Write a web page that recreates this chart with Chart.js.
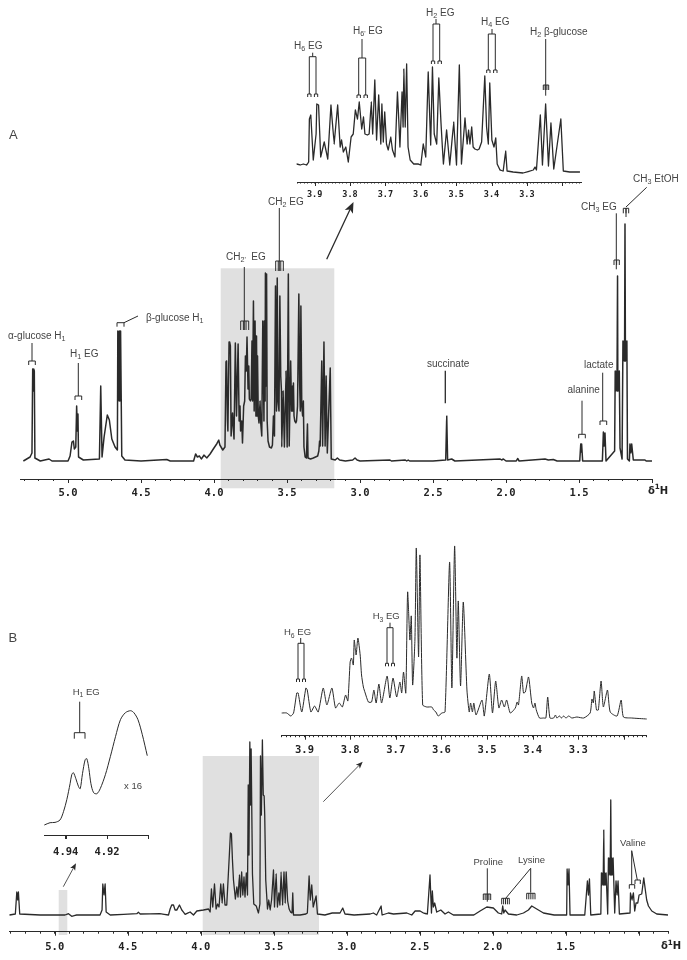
<!DOCTYPE html>
<html><head><meta charset="utf-8">
<script src="https://cdn.jsdelivr.net/npm/chart.js@4"></script>
<style>html,body{margin:0;padding:0;background:#fff;width:687px;height:960px;overflow:hidden}
canvas{position:absolute;left:0;top:0}</style></head><body>
<canvas id="c1" width="687" height="960"></canvas>
<canvas id="c2" width="687" height="960"></canvas>
<canvas id="c3" width="687" height="960"></canvas>
<canvas id="c4" width="687" height="960"></canvas>
<canvas id="c5" width="687" height="960"></canvas>
<script>
// ---------- Spectrum A (whole range): [chemical shift, intensity] ----------
const spectrumA=[[5.306,0],[5.26,4],[5.247,8],[5.242,92],[5.238,70],[5.235,92],[5.231,90],[5.227,3],[5.19,0],[5.13,2],[5.11,0],[5.0,0],[4.986,5],[4.973,19],[4.963,20],[4.957,12],[4.947,14],[4.941,55],[4.936,30],[4.932,47],[4.928,4],[4.895,1],
[4.785,2],[4.776,75],[4.767,4],[4.753,24],[4.731,46],[4.717,41],[4.70,22],[4.678,14],[4.662,11],[4.659,130],[4.655,60],[4.651,130],[4.648,60],[4.645,130],[4.642,60],[4.64,130],[4.632,5],[4.61,1],[4.5,0],[4.324,1.5],[4.3,0],[4.14,0],[4.126,7],[4.114,4],[4.10,5],[4.087,2],[4.068,6],[4.05,3],[4.027,7],[4.005,12],[3.982,17],[3.968,21],[3.96,16],[3.94,11],
[3.925,14],[3.918,99],[3.914,100],[3.908,40],[3.905,30],[3.897,119],[3.893,119],[3.888,115],[3.883,25],[3.873,48],[3.863,22],[3.854,118],[3.846,45],[3.835,117],[3.828,40],[3.822,55],[3.818,30],[3.81,40],[3.805,18],[3.797,55],[3.79,60],[3.785,105],[3.779,90],[3.774,124],[3.767,72],[3.762,95],[3.758,62],[3.751,60],[3.746,62],[3.74,120],[3.736,60],[3.73,160],[3.725,50],[3.719,140],[3.713,45],[3.709,125],[3.705,45],[3.702,105],[3.697,45],[3.692,38],[3.685,60],[3.68,38],[3.673,25],[3.666,140],[3.662,95],[3.658,40],[3.655,140],[3.65,60],[3.648,188],[3.644,75],[3.64,187],[3.636,40],[3.63,20],[3.62,14],[3.607,13],[3.6,16],[3.593,45],[3.586,25],[3.579,175],[3.572,50],[3.567,183],[3.562,60],[3.555,50],[3.549,165],[3.543,85],[3.538,70],[3.536,14],[3.527,70],[3.518,14],[3.507,90],[3.499,14],[3.491,187],[3.485,15],[3.475,100],[3.469,50],[3.465,75],[3.461,50],[3.456,78],[3.452,45],[3.447,40],[3.44,38],[3.435,40],[3.428,55],[3.419,167],[3.414,80],[3.409,50],[3.405,155],[3.399,55],[3.393,45],[3.388,60],[3.384,14],[3.376,4],[3.367,3],[3.36,37],[3.356,3],[3.339,2],[3.32,3],[3.29,5],[3.282,10],[3.277,20],[3.273,15],[3.262,100],[3.256,15],[3.247,119],[3.239,15],[3.232,85],[3.224,8],[3.204,93],[3.197,2],[3.17,1],[3.155,3],[3.14,1],[3.1,0],
[3.05,1],[3.034,3],[3.02,1],[3.0,0],[2.795,1],[2.785,0],[2.69,1],[2.68,0],[2.67,1],[2.66,0],[2.5,0],[2.413,1],[2.406,45],[2.40,1],[2.372,2],[2.35,0],[2.04,2],[2.03,1],[2.018,2],[2.0,0],[1.93,0],[1.92,2.5],[1.91,0],[1.733,2],[1.71,1],[1.676,1.5],[1.65,0],[1.495,0],[1.488,17],[1.485,9],[1.482,17],[1.475,0],[1.34,0],[1.333,29],[1.328,15],[1.322,28],[1.315,0],[1.256,10],[1.252,90],[1.248,70],[1.244,90],[1.24,70],[1.236,185],[1.234,70],[1.23,90],[1.227,70],[1.224,90],[1.219,13],[1.205,2],[1.199,120],[1.195,100],[1.192,120],[1.188,100],[1.185,237],[1.182,100],[1.179,120],[1.175,100],[1.172,120],[1.168,2],[1.155,0],[1.151,17],[1.145,8],[1.139,17],[1.128,1],[1.048,1],[1.04,0],[1.0,0]];

// ---------- Spectrum A (3.95-3.15 expansion) ----------
const expansionA=[[3.951,8],[3.941,7],[3.932,8],[3.923,7],[3.917,10],[3.915,53],[3.911,57],[3.904,12],[3.896,38],[3.894,68],[3.889,67],[3.883,15],[3.873,30],[3.863,13],[3.854,67],[3.845,28],[3.835,67],[3.828,25],[3.824,32],[3.819,20],[3.812,25],[3.805,10],[3.797,35],[3.791,38],[3.785,62],[3.779,53],[3.774,70],[3.767,43],[3.762,55],[3.758,38],[3.751,37],[3.746,38],[3.74,70],[3.736,38],[3.73,92],[3.725,32],[3.719,77],[3.713,28],[3.71,68],[3.706,30],[3.702,60],[3.697,28],[3.692,22],[3.685,35],[3.68,22],[3.673,15],[3.666,80],[3.663,58],[3.659,25],[3.653,80],[3.65,45],[3.648,103],[3.644,45],[3.64,108],[3.636,25],[3.63,12],[3.62,8],[3.607,8],[3.6,7],[3.593,28],[3.586,15],[3.579,100],[3.572,27],[3.567,105],[3.562,38],[3.555,28],[3.549,94],[3.543,50],[3.539,25],[3.536,8],[3.527,42],[3.518,7],[3.507,50],[3.499,7],[3.491,107],[3.485,8],[3.475,54],[3.469,28],[3.465,42],[3.461,28],[3.456,45],[3.452,25],[3.447,23],[3.44,22],[3.435,23],[3.428,30],[3.419,96],[3.414,45],[3.409,28],[3.405,89],[3.399,32],[3.393,25],[3.388,34],[3.384,8],[3.376,2],[3.367,1],[3.36,21],[3.356,1],[3.339,0],[3.311,-1],[3.282,2],[3.277,5],[3.273,2],[3.262,57],[3.256,7],[3.247,68],[3.239,6],[3.232,49],[3.224,3],[3.204,53],[3.197,1],[3.179,0],[3.15,0]];

// ---------- Spectrum B (whole range) ----------
const spectrumB=[[5.31,0],[5.27,1],[5.26,23],[5.254,15],[5.249,23],[5.24,1],[5.1,0],[5.01,0],[4.93,0],[4.906,1.3],[4.884,-1.3],[4.85,0],[4.69,0],[4.676,5],[4.671,31],[4.663,20],[4.655,31],[4.648,3],[4.62,0],[4.438,1.3],[4.427,2.7],[4.415,1],[4.28,1.3],[4.221,0],[4.21,6],[4.199,10],[4.187,10],[4.176,5],[4.164,5],[4.146,10],[4.13,5],[4.107,0.7],[4.073,3],[4.05,0],[4.027,4],[4.005,4.5],[3.982,5],[3.947,6],[3.936,3],[3.927,26],[3.918,8],[3.906,31],[3.895,6],[3.885,11],[3.875,8],[3.863,31],[3.854,12],[3.845,31],[3.834,10],[3.822,10],[3.804,61],[3.797,82],[3.79,81],[3.783,55],[3.776,35],[3.763,16],[3.753,28],[3.745,18],[3.735,40],[3.728,18],[3.72,43],[3.712,20],[3.704,38],[3.697,18],[3.688,42],[3.68,20],[3.675,130],[3.67,60],[3.664,173],[3.659,110],[3.655,166],[3.646,41],[3.637,11],[3.62,9],[3.605,2],[3.595,11],[3.591,159],[3.585,100],[3.578,175],[3.572,120],[3.566,119],[3.562,100],[3.555,35],[3.543,6],[3.534,15],[3.525,5],[3.515,15],[3.502,45],[3.495,8],[3.484,41],[3.475,8],[3.465,22],[3.458,10],[3.45,43],[3.44,10],[3.43,43],[3.422,12],[3.415,43],[3.405,14],[3.395,6],[3.385,3],[3.375,2],[3.37,22],[3.365,0],[3.32,0],[3.28,1],[3.27,2],[3.258,39],[3.25,15],[3.24,30],[3.23,8],[3.21,19],[3.201,1],[3.15,0],[3.1,2],[3.046,2],
[3.028,7],[3.012,1],[2.95,0],[2.84,1],[2.818,2],[2.795,0],[2.765,9],[2.758,0],[2.715,2],[2.68,1],[2.589,2],[2.555,0],[2.532,4],[2.498,4],[2.475,2],[2.448,1],[2.43,40],[2.42,2],[2.414,24],[2.407,8],[2.398,12],[2.384,3],[2.356,5],[2.327,1],[2.304,3],[2.27,0],[2.13,0],[2.087,4],[2.041,8],[1.996,7],[1.962,2],[1.939,1],[1.932,9],[1.925,2],[1.916,5],[1.893,1],[1.836,0],[1.79,2],[1.756,5],[1.733,9],[1.699,6],[1.653,2],[1.58,0],[1.494,0],[1.491,46],[1.485,30],[1.478,46],[1.471,0],[1.37,0],[1.352,34],[1.345,20],[1.338,36],[1.329,0],[1.26,1],[1.256,42],[1.252,30],[1.248,42],[1.244,30],[1.24,85],[1.236,30],[1.232,42],[1.228,30],[1.224,42],[1.213,1],[1.208,57],[1.204,40],[1.2,57],[1.196,40],[1.192,115],[1.188,40],[1.184,57],[1.18,40],[1.176,57],[1.165,2],[1.156,34],[1.149,20],[1.142,34],[1.133,1],[1.06,2],[1.057,22],[1.047,15],[1.037,22],[1.028,4],[1.019,12],[1.007,12],[0.998,20],[0.98,21],[0.966,37],[0.957,27],[0.946,15],[0.934,9],[0.911,4],[0.877,1],[0.8,0]];

// ---------- Spectrum B (3.95-3.15 expansion) ----------
const expansionB=[[3.95,7],[3.939,7],[3.93,4],[3.924,7],[3.917,27],[3.914,27],[3.906,8],[3.897,32],[3.894,30],[3.886,8],[3.878,14],[3.87,8],[3.859,32],[3.851,15],[3.84,32],[3.832,12],[3.824,17],[3.817,13],[3.81,25],[3.805,19],[3.8,58],[3.797,62],[3.793,55],[3.791,80],[3.787,65],[3.783,82],[3.778,65],[3.775,45],[3.771,33],[3.767,27],[3.76,18],[3.753,18],[3.748,30],[3.743,17],[3.737,36],[3.731,17],[3.719,44],[3.713,22],[3.706,42],[3.698,23],[3.691,38],[3.687,27],[3.683,48],[3.678,27],[3.674,128],[3.669,80],[3.666,104],[3.663,35],[3.658,80],[3.655,172],[3.65,63],[3.647,165],[3.641,15],[3.632,13],[3.621,13],[3.617,10],[3.612,8],[3.607,4],[3.599,7],[3.592,8],[3.582,158],[3.577,32],[3.571,174],[3.566,62],[3.563,119],[3.558,34],[3.552,118],[3.544,30],[3.539,8],[3.536,17],[3.532,8],[3.529,17],[3.524,5],[3.511,20],[3.506,4],[3.495,46],[3.488,7],[3.481,39],[3.474,12],[3.468,20],[3.462,13],[3.457,20],[3.449,7],[3.438,12],[3.434,18],[3.431,15],[3.424,44],[3.42,27],[3.416,28],[3.409,43],[3.402,17],[3.398,12],[3.395,17],[3.392,10],[3.385,2],[3.376,2],[3.371,2],[3.367,23],[3.362,2],[3.354,2],[3.35,5],[3.347,2],[3.341,4],[3.337,2],[3.332,4],[3.327,2],[3.321,4],[3.314,2],[3.303,3],[3.288,2],[3.274,7],[3.27,21],[3.267,17],[3.265,29],[3.26,10],[3.256,10],[3.25,39],[3.245,13],[3.236,30],[3.23,8],[3.215,4],[3.206,20],[3.201,3],[3.183,2],[3.15,1]];

// ---------- H1 EG expansion (x 16) ----------
const expansionH1=[[4.9504,1.7],[4.9476,4],[4.9452,4.3],[4.9428,6.7],[4.9411,15],[4.9395,27],[4.9379,43],[4.9371,52],[4.9363,54],[4.9351,48],[4.9338,40],[4.933,38],[4.9319,53],[4.9306,67],[4.9298,68],[4.9288,58],[4.9278,43],[4.9265,34],[4.9249,33],[4.9233,38],[4.9208,52],[4.9184,70],[4.9159,90],[4.9135,107],[4.9111,114],[4.9086,116],[4.907,114],[4.905,107],[4.9029,92],[4.9005,71]];

// ---------- Tick labels ----------
const mainTicks=['5.0','4.5','4.0','3.5','3.0','2.5','2.0','1.5'];
const insetTicks=['3.9','3.8','3.7','3.6','3.5','3.4','3.3'];
const smallTicks=['4.94','4.92'];

const INK='#2a2a2a', TXT='#444', GREY='#e0e0e0';
const SANS='"Liberation Sans"', MONO='"DejaVu Sans Mono"';

const overlay={id:'overlay',
 beforeDraw(c,_,o){const x=c.ctx;(o.rects||[]).forEach(r=>{x.fillStyle=GREY;x.fillRect(r[0],r[1],r[2]-r[0],r[3]-r[1]);});},
 afterDraw(c,_,o){
  const x=c.ctx,s=c.scales.x;x.save();
  x.strokeStyle=INK;x.lineWidth=1;
  s.ticks.forEach(t=>{if(o.isMajor(t.value)){const p=Math.round(s.getPixelForValue(t.value))+.5;x.beginPath();x.moveTo(p,s.top);x.lineTo(p,s.top+o.majorLen);x.stroke();}});
  (o.lines||[]).forEach(l=>{x.lineWidth=l[4]||1;x.strokeStyle=INK;x.beginPath();x.moveTo(l[0],l[1]);x.lineTo(l[2],l[3]);x.stroke();});
  (o.forks||[]).forEach(f=>{x.lineWidth=f[5]||1;x.strokeStyle=INK;x.beginPath();x.moveTo(f[0],f[2]);x.lineTo(f[1],f[2]);
    for(let i=0;i<f[4];i++){const px=f[0]+(f[1]-f[0])*i/(f[4]-1);x.moveTo(px,f[2]);x.lineTo(px,f[2]+f[3]);}x.stroke();});
  (o.arrows||[]).forEach(a=>{const ang=Math.atan2(a[3]-a[1],a[2]-a[0]),L=a[4],W=a[5];x.lineWidth=a[6];x.strokeStyle=INK;x.fillStyle=INK;
    x.beginPath();x.moveTo(a[0],a[1]);x.lineTo(a[2]-Math.cos(ang)*L*.7,a[3]-Math.sin(ang)*L*.7);x.stroke();
    x.beginPath();x.moveTo(a[2],a[3]);x.lineTo(a[2]-Math.cos(ang)*L-Math.sin(ang)*W,a[3]-Math.sin(ang)*L+Math.cos(ang)*W);
    x.lineTo(a[2]-Math.cos(ang)*L*.75,a[3]-Math.sin(ang)*L*.75);x.lineTo(a[2]-Math.cos(ang)*L+Math.sin(ang)*W,a[3]-Math.sin(ang)*L-Math.cos(ang)*W);x.closePath();x.fill();});
  (o.texts||[]).forEach(t=>{
    let px=t[1];const sz=t[3]||10,b=t[4]?'bold ':'';x.fillStyle=t[4]?'#222':TXT;x.textBaseline='alphabetic';x.textAlign='left';
    const base=t[2]+sz*.36;
    t[0].forEach((seg,i)=>{const sub=i%2===1,sup=t[5]&&sub;x.font=b+(sub?sz*.72:sz)+'px '+(t[4]?'"DejaVu Sans"':SANS);
      x.fillText(seg,px,sup?base-sz*.42:(sub?base+sz*.25:base));px+=x.measureText(seg).width;});
  });
  x.restore();
 }};

function panel(id,series,g){
 const labels=g.labels;
 return new Chart(document.getElementById(id),{
  type:'line',
  data:{datasets:[{data:series.map(p=>({x:p[0],y:p[1]})),borderColor:INK,borderWidth:g.lw,pointRadius:0,tension:g.tension||0.001,clip:false,fill:false,borderJoinStyle:'round'}]},
  plugins:[overlay],
  options:{responsive:false,animation:false,devicePixelRatio:1,
   layout:{padding:{left:g.left,right:687-g.right,top:g.top,bottom:960-g.axisY-g.axisH}},
   plugins:{legend:{display:false},tooltip:{enabled:false},
    overlay:Object.assign({majorLen:g.majorLen,isMajor:g.isMajor},g.notes)},
   scales:{
    y:{display:false,min:g.baseY-g.axisY,max:g.baseY-g.top},
    x:{type:'linear',reverse:true,min:g.xmin,max:g.xmax,
      afterFit:s=>{s.height=g.axisH;},
      border:{color:INK,width:1},
      grid:{drawOnChartArea:false,drawTicks:true,tickLength:g.tick,tickColor:INK,tickWidth:1},
      ticks:{stepSize:g.step,includeBounds:false,autoSkip:false,maxRotation:0,minRotation:0,padding:g.pad,color:'#222',
        font:{family:MONO,weight:'bold',size:g.font},
        callback:v=>{const s=v.toFixed(g.dp);return (g.isMajor(v)&&labels.includes(s))?s:'';}}}
   }}});
}

panel('c1',spectrumA,{labels:mainTicks,left:20,right:652,top:190,axisY:479,axisH:30,baseY:461,xmin:1.0,xmax:5.329,step:.1,dp:1,tick:2,majorLen:4,pad:6,font:10.5,lw:1.5,
 isMajor:v=>Math.abs(v*2-Math.round(v*2))<1e-6,
 notes:{rects:[[220.7,268.3,334.3,488.3]],
  lines:[[32,343,32,361],[78.3,363,78.3,396],[138,316,124,322.7],[244.3,267,244.3,330],[279.3,208,279.3,271],[646.7,187.3,626,207],[626,208,626,217],[616.3,213.3,616.3,269.3],[445.3,370.7,445.3,403.3,1.3],[602.7,372.7,602.7,421],[582,400.7,582,434.3]],
  forks:[[28.7,35.3,361,4,2],[75,81.7,396,4,2],[117,124,322.7,4,2],[240.7,248.7,321,9,4],[275.7,283.3,261,10,4],[623.3,628.7,208.3,5,3],[614,619.3,260,5,3],[600,606.7,421,4,2],[578.7,585.3,434.3,4,2]],
  arrows:[[326.7,259.3,353.5,202,11,4.5,1.3]],
  texts:[[['A'],9,134,13],[['α-glucose H','1'],8,335,10],[['H','1',' EG'],70,353,10],[['β-glucose H','1'],146,317,10],[['CH','2\'','  EG'],226,256,10],[['CH','2',' EG'],268,201,10],[['CH','3',' EtOH'],633,178,10],[['CH','3',' EG'],581,206,10],[['succinate'],427,363,10],[['lactate'],584,364,10],[['alanine'],567.5,389,10],[['δ','1','H'],648,490,10,true,true]]}});

panel('c2',expansionA,{labels:insetTicks,left:297,right:581,top:10,axisY:182,axisH:24,baseY:172,xmin:3.147,xmax:3.95,step:.01,dp:1,tick:1.5,majorLen:4,pad:6,font:8.5,lw:1.3,
 isMajor:v=>Math.abs(v*10-Math.round(v*10))<1e-6,
 notes:{
  lines:[[312.7,52.7,312.7,56.7],[309.3,56.7,309.3,94],[316,56.7,316,94],[362,39,362,58],[358.7,58,358.7,95],[365.7,58,365.7,95],[436,19,436,24],[433,24,433,61],[439.7,24,439.7,61],[492,29,492,34],[488.3,34,488.3,70],[495.3,34,495.3,70],[545.7,39,545.7,95.7]],
  forks:[[309.3,316,56.7,0,2],[358.7,365.7,58,0,2],[433,439.7,24,0,2],[488.3,495.3,34,0,2],[307.7,311,94,3,2],[314.4,317.7,94,3,2],[357,360.4,95,3,2],[364,367.4,95,3,2],[431.4,434.7,61,3,2],[438,441.4,61,3,2],[486.7,490,70,3,2],[493.6,497,70,3,2],[543.3,548.7,85,5,4]],
  texts:[[['H','6',' EG'],294,45,10],[['H','6\'',' EG'],353,30,10],[['H','2',' EG'],426,12,10],[['H','4',' EG'],481,21,10],[['H','2',' β-glucose'],530,31,10]]}});

panel('c3',spectrumB,{labels:mainTicks,left:9.5,right:668,top:700,axisY:931.7,axisH:26,baseY:915,xmin:.8,xmax:5.31,step:.1,dp:1,tick:2,majorLen:4,pad:7,font:10.5,lw:1.3,
 isMajor:v=>Math.abs(v*2-Math.round(v*2))<1e-6,
 notes:{rects:[[202.7,756,319,935],[58.7,890,67.3,935]],
  lines:[[487.3,868.3,487.3,901.7],[530.7,868.3,530.7,892.7],[530.7,868.3,505.7,898.3],[631.7,850.7,631.7,884.7],[631.7,850.7,637.3,880]],
  forks:[[483.3,490.7,894,6,5],[526.7,535,893.3,6,5],[501.7,509.3,898.3,6,5],[629.3,634.7,884.7,4,2],[635,640.3,880,4,2]],
  arrows:[[323.3,801.7,362.7,761.7,7,2.8,.8],[63.3,886.7,76,863.3,7,2.8,.8]],
  texts:[[['B'],8.5,637,13],[['Proline'],473.5,862,9.5],[['Lysine'],518,860,9.5],[['Valine'],620,843,9.5],[['δ','1','H'],661,945.5,10,true,true]]}});

panel('c4',expansionB,{labels:insetTicks,left:281.7,right:646.7,top:530,axisY:735.7,axisH:24,baseY:720,xmin:3.15,xmax:3.95,step:.01,dp:1,tick:1.5,majorLen:4,pad:7,font:10.5,lw:1,tension:.2,
 isMajor:v=>Math.abs(v*10-Math.round(v*10))<1e-6,
 notes:{
  lines:[[300.7,638,300.7,643.3],[298,643.3,298,679],[304,643.3,304,679],[390,622.7,390,627.7],[387,627.7,387,663.3],[393,627.7,393,663.3]],
  forks:[[298,304,643.3,0,2],[387,393,627.7,0,2],[296.5,299.5,679,3,2],[302.5,305.5,679,3,2],[385.5,388.5,663.3,3,2],[391.5,394.5,663.3,3,2]],
  texts:[[['H','6',' EG'],284,632,9.5],[['H','3',' EG'],372.7,616,9.5]]}});

panel('c5',expansionH1,{labels:smallTicks,left:44.3,right:148.3,top:690,axisY:835,axisH:24,baseY:826.7,xmin:4.9,xmax:4.9504,step:.02,dp:2,tick:4,majorLen:4,pad:7,font:10.5,lw:1,tension:.3,
 isMajor:v=>true,
 notes:{
  lines:[[79.7,701.7,79.7,732.7]],
  forks:[[74.3,85,732.7,6,2]],
  texts:[[['H','1',' EG'],72.7,691.7,9.5],[['x 16'],124,786,9.5]]}});
</script>
</body></html>
